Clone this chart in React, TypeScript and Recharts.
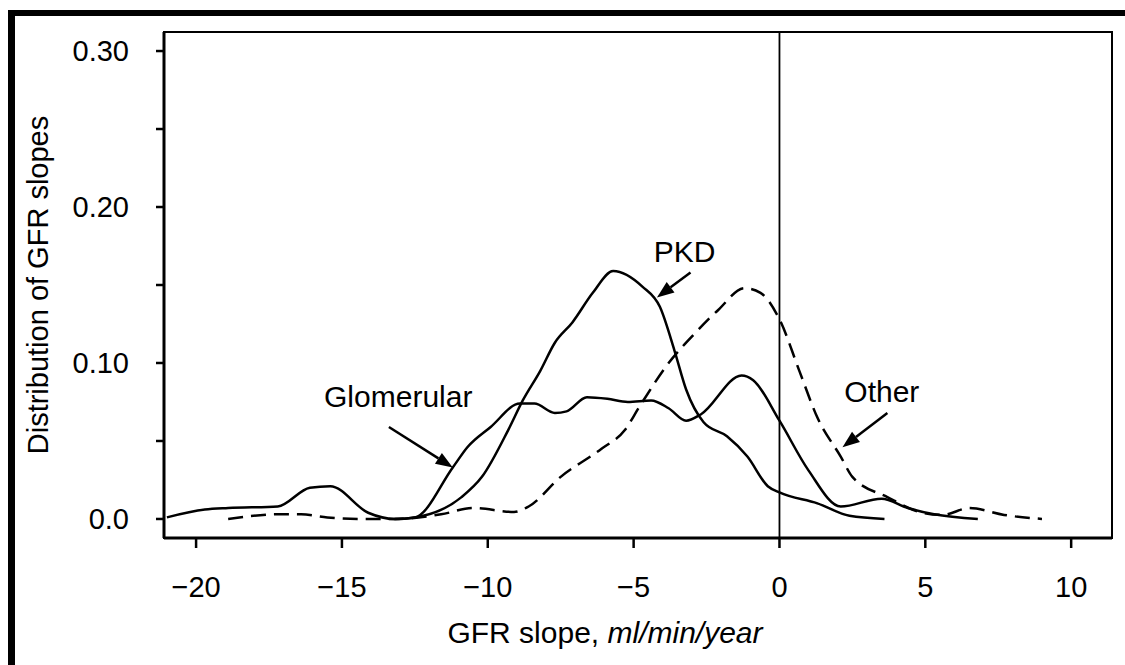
import { LineChart, Line, XAxis, YAxis, ReferenceLine, ReferenceArea, ReferenceDot, Label } from "recharts"

// [slope, density]
const glomerularPts = [
  [-21.0, 0.001], [-19.7, 0.006], [-18.9, 0.007], [-17.2, 0.008], [-16.1, 0.02], [-15.4, 0.021],
  [-14.1, 0.004], [-13.2, 0.0], [-12.5, 0.001], [-11.2, 0.033], [-10.7, 0.046], [-9.9, 0.059],
  [-8.9, 0.074], [-8.4, 0.074], [-7.7, 0.068], [-7.3, 0.069], [-6.6, 0.078], [-5.9, 0.077],
  [-5.2, 0.075], [-4.4, 0.076], [-3.8, 0.071], [-3.2, 0.063], [-2.7, 0.067], [-1.3, 0.092],
  [-0.9, 0.089], [0.0, 0.063], [1.0, 0.031], [2.1, 0.008], [3.5, 0.013], [4.4, 0.007],
  [5.3, 0.003], [6.8, 0.0],
]

const pkdPts = [
  [-13.2, 0.0], [-12.5, 0.001], [-10.9, 0.014], [-10.2, 0.027], [-9.3, 0.057], [-8.8, 0.076],
  [-8.2, 0.095], [-7.7, 0.113], [-7.1, 0.126], [-6.4, 0.145], [-5.7, 0.159], [-4.7, 0.149],
  [-4.1, 0.136], [-3.6, 0.108], [-3.2, 0.083], [-2.6, 0.062], [-1.8, 0.053], [-1.1, 0.04],
  [-0.4, 0.021], [0.0, 0.017], [1.3, 0.01], [2.4, 0.002], [3.6, 0.0],
]

const otherPts = [
  [-18.9, 0.0], [-17.2, 0.003], [-16.4, 0.003], [-15.5, 0.001], [-14.3, 0.0], [-13.2, 0.0],
  [-11.6, 0.003], [-10.5, 0.007], [-9.1, 0.0045], [-8.6, 0.008], [-7.5, 0.027], [-6.1, 0.045],
  [-5.3, 0.057], [-4.8, 0.072], [-3.8, 0.1], [-2.9, 0.119], [-2.1, 0.134], [-1.2, 0.148],
  [-0.65, 0.145], [0.0, 0.128], [0.7, 0.094], [1.3, 0.065], [2.1, 0.04], [2.5, 0.027],
  [3.7, 0.014], [4.8, 0.0045], [5.6, 0.0026], [6.5, 0.007], [7.7, 0.0026], [9.0, 0.0],
]

const xTicks = [-20, -15, -10, -5, 0, 5, 10]
const yTicks = [0, 0.05, 0.1, 0.15, 0.2, 0.25, 0.3]
const yTickLabels: Record<string, string> = { "0": "0.0", "0.1": "0.10", "0.2": "0.20", "0.3": "0.30" }

// label text anchor + arrow tail/tip, in data units
const notes = [
  { text: "PKD", tx: -3.25, ty: 0.165, from: [-3.05, 0.158], to: [-4.2, 0.142] },
  { text: "Glomerular", tx: -13.07, ty: 0.072, from: [-13.39, 0.059], to: [-11.2, 0.033] },
  { text: "Other", tx: 3.51, ty: 0.075, from: [3.7, 0.068], to: [2.16, 0.046] },
]

const X_DOMAIN = [-21.1, 11.4]
const Y_DOMAIN = [-0.0122, 0.3122]

const FONT = "'Liberation Sans', Arial, Helvetica, sans-serif"

const toRows = (pts: number[][]) => pts.map(([x, y]) => ({ x, y }))

const Arrow = (p: any) => {
  const { x1, y1, x2, y2 } = p
  const dx = x2 - x1
  const dy = y2 - y1
  const len = Math.sqrt(dx * dx + dy * dy) || 1
  const ux = dx / len
  const uy = dy / len
  const hl = 17
  const hw = 6.5
  const bx = x2 - ux * hl
  const by = y2 - uy * hl
  return (
    <g>
      <line x1={x1} y1={y1} x2={bx} y2={by} stroke="#000" strokeWidth={2.5} />
      <polygon
        points={`${x2},${y2} ${bx - uy * hw},${by + ux * hw} ${bx + uy * hw},${by - ux * hw}`}
        fill="#000"
      />
    </g>
  )
}

export default function App() {
  return (
    <div style={{ position: "relative", width: 1125, height: 665, overflow: "hidden", background: "#fff" }}>
      <style>{"body{margin:0}"}</style>
      <div
        style={{
          position: "absolute",
          left: 8,
          top: 10,
          width: 1200,
          height: 700,
          borderTop: "6px solid #000",
          borderLeft: "7px solid #000",
          boxSizing: "border-box",
        }}
      />
      <div style={{ position: "absolute", left: 0, top: 0 }}>
        <LineChart width={1125} height={665} margin={{ top: 32, right: 13, bottom: 17, left: 48 }}>
          <XAxis
            type="number"
            dataKey="x"
            domain={X_DOMAIN}
            ticks={xTicks}
            allowDataOverflow
            height={110}
            tickSize={10}
            tickMargin={28}
            axisLine={{ stroke: "#000", strokeWidth: 3 }}
            tickLine={{ stroke: "#000", strokeWidth: 2.5 }}
            tick={{ fill: "#000", fontSize: 29, fontFamily: FONT }}
            tickFormatter={(v: number) => (v < 0 ? `\u2212${Math.abs(v)}` : `${v}`)}
          >
            <Label
              content={({ viewBox }: any) => (
                <text
                  x={viewBox.x + viewBox.width / 2 - 33}
                  y={viewBox.y + 105}
                  textAnchor="middle"
                  fontSize={30}
                  fontFamily={FONT}
                  fill="#000"
                >
                  <tspan>GFR slope, </tspan>
                  <tspan fontStyle="italic">ml/min/year</tspan>
                </text>
              )}
            />
          </XAxis>
          <YAxis
            type="number"
            domain={Y_DOMAIN}
            ticks={yTicks}
            allowDataOverflow
            width={116}
            tickSize={8}
            tickMargin={27}
            axisLine={{ stroke: "#000", strokeWidth: 3 }}
            tickLine={{ stroke: "#000", strokeWidth: 2.5 }}
            tick={{ fill: "#000", fontSize: 29, fontFamily: FONT }}
            tickFormatter={(v: number) => yTickLabels[String(Math.round(v * 100) / 100)] ?? ""}
          >
            <Label
              content={({ viewBox }: any) => {
                const cx = viewBox.x
                const cy = viewBox.y + viewBox.height / 2
                return (
                  <text
                    x={cx}
                    y={cy}
                    transform={`rotate(-90, ${cx}, ${cy})`}
                    textAnchor="middle"
                    fontSize={29}
                    fontFamily={FONT}
                    fill="#000"
                  >
                    Distribution of GFR slopes
                  </text>
                )
              }}
            />
          </YAxis>
          <ReferenceArea
            x1={X_DOMAIN[0]}
            x2={X_DOMAIN[1]}
            y1={Y_DOMAIN[0]}
            y2={Y_DOMAIN[1]}
            ifOverflow="visible"
            fill="none"
            fillOpacity={0}
            stroke="#000"
            strokeWidth={2}
          />
          <ReferenceLine x={0} stroke="#000" strokeWidth={1.8} />
          <Line
            data={toRows(otherPts)}
            dataKey="y"
            type="monotone"
            stroke="#000"
            strokeWidth={2.5}
            strokeDasharray="15 8"
            dot={false}
            activeDot={false}
            isAnimationActive={false}
          />
          <Line
            data={toRows(glomerularPts)}
            dataKey="y"
            type="monotone"
            stroke="#000"
            strokeWidth={2.5}
            dot={false}
            activeDot={false}
            isAnimationActive={false}
          />
          <Line
            data={toRows(pkdPts)}
            dataKey="y"
            type="monotone"
            stroke="#000"
            strokeWidth={2.5}
            dot={false}
            activeDot={false}
            isAnimationActive={false}
          />
          {notes.map((n) => (
            <ReferenceLine
              key={`arrow-${n.text}`}
              segment={[
                { x: n.from[0], y: n.from[1] },
                { x: n.to[0], y: n.to[1] },
              ]}
              shape={(p: any) => <Arrow {...p} />}
            />
          ))}
          {notes.map((n) => (
            <ReferenceDot
              key={`note-${n.text}`}
              x={n.tx}
              y={n.ty}
              r={0}
              shape={(p: any) => (
                <text x={p.cx} y={p.cy} textAnchor="middle" fontSize={30} fontFamily={FONT} fill="#000">
                  {n.text}
                </text>
              )}
            />
          ))}
        </LineChart>
      </div>
    </div>
  )
}
